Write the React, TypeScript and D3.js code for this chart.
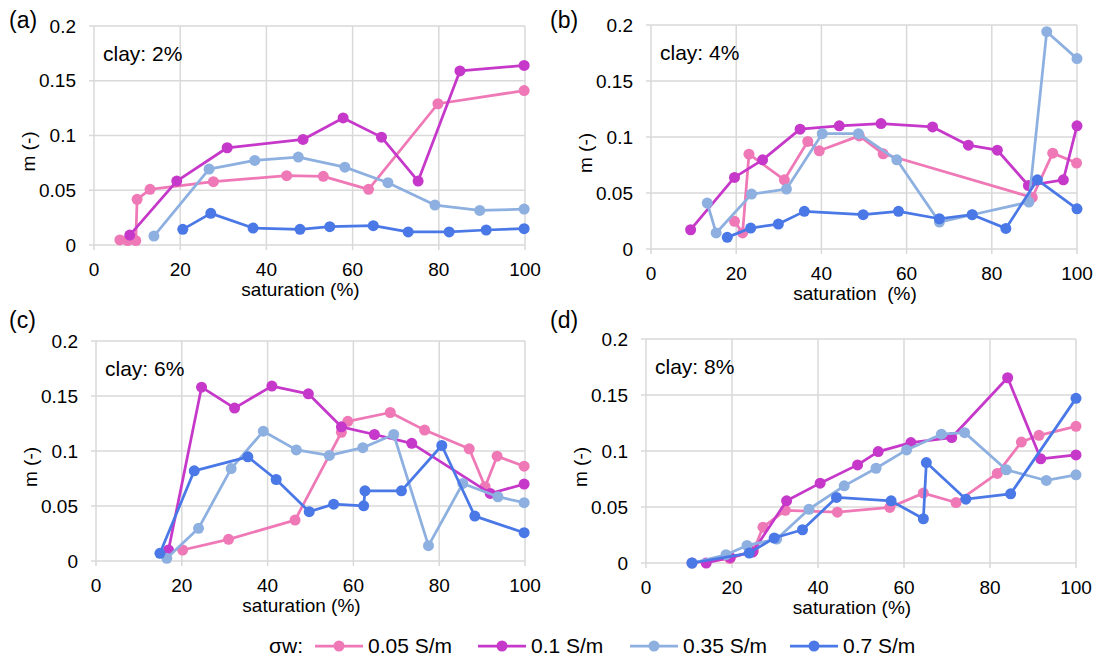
import React from "react";
import * as d3 from "d3";

// saturation (%) and m (-) pairs per clay content and water conductivity
const clay2_005: [number, number][] = [[6.0, 0.0046], [7.8, 0.004], [9.7, 0.004], [10.0, 0.0417], [13.0, 0.0508], [27.7, 0.0578], [44.7, 0.0633], [53.2, 0.0627], [63.7, 0.0508], [79.8, 0.129], [99.8, 0.141]];
const clay2_01: [number, number][] = [[8.3, 0.0091], [19.2, 0.0584], [30.9, 0.0888], [48.5, 0.0964], [57.8, 0.116], [66.7, 0.0985], [75.2, 0.0584], [84.9, 0.159], [99.8, 0.164]];
const clay2_035: [number, number][] = [[13.9, 0.0082], [26.7, 0.0693], [37.3, 0.0772], [47.4, 0.0803], [58.2, 0.0711], [68.2, 0.0569], [79.1, 0.0365], [89.5, 0.0316], [99.8, 0.0328]];
const clay2_07: [number, number][] = [[20.6, 0.0143], [27.1, 0.0289], [36.9, 0.0155], [47.8, 0.0143], [54.7, 0.0167], [64.8, 0.0176], [72.9, 0.0119], [82.4, 0.0119], [91.0, 0.0137], [99.8, 0.0149]];

const clay4_005: [number, number][] = [[19.6, 0.0247], [21.5, 0.0143], [23.0, 0.0847], [31.3, 0.0618], [36.8, 0.096], [39.5, 0.0877], [48.9, 0.101], [54.5, 0.085], [89.5, 0.046], [94.3, 0.0856], [99.9, 0.0767]];
const clay4_01: [number, number][] = [[9.3, 0.0172], [19.6, 0.0639], [26.2, 0.0796], [35.0, 0.107], [44.2, 0.110], [54.0, 0.112], [66.1, 0.109], [74.5, 0.0927], [81.3, 0.0882], [88.6, 0.0567], [96.8, 0.0618], [100, 0.110]];
const clay4_035: [number, number][] = [[13.2, 0.041], [15.3, 0.0143], [23.6, 0.049], [31.8, 0.0535], [40.2, 0.103], [48.7, 0.103], [57.7, 0.0796], [67.7, 0.024], [75.4, 0.0306], [88.7, 0.0419], [92.9, 0.194], [100, 0.170]];
const clay4_07: [number, number][] = [[17.9, 0.0104], [23.4, 0.0187], [29.9, 0.0223], [36.0, 0.0336], [49.8, 0.0306], [58.1, 0.0336], [67.7, 0.027], [75.4, 0.0306], [83.3, 0.0184], [90.7, 0.0618], [100, 0.0359]];

const clay6_005: [number, number][] = [[20.2, 0.010], [30.9, 0.0197], [46.4, 0.0372], [57.2, 0.117], [58.7, 0.127], [68.6, 0.135], [76.6, 0.119], [87.0, 0.102], [90.7, 0.0675], [93.5, 0.0953], [99.8, 0.0862]];
const clay6_01: [number, number][] = [[16.9, 0.010], [24.6, 0.158], [32.3, 0.139], [41.0, 0.159], [49.5, 0.152], [57.2, 0.122], [64.9, 0.115], [73.6, 0.107], [91.9, 0.0614], [99.8, 0.0699]];
const clay6_035: [number, number][] = [[16.5, 0.0024], [23.9, 0.0297], [31.5, 0.084], [39.0, 0.118], [46.7, 0.101], [54.4, 0.096], [62.2, 0.103], [69.4, 0.115], [77.5, 0.0139], [85.5, 0.0705], [93.7, 0.0584], [99.8, 0.053]];
const clay6_07: [number, number][] = [[14.9, 0.007], [22.9, 0.082], [35.4, 0.0947], [42.0, 0.0741], [49.7, 0.0448], [55.4, 0.0517], [62.4, 0.0502], [62.7, 0.0638], [71.2, 0.0638], [80.6, 0.105], [88.3, 0.0408], [99.8, 0.0257]];

const clay8_005: [number, number][] = [[10.7, 0.0], [19.5, 0.004], [25.0, 0.011], [27.2, 0.032], [32.4, 0.047], [44.5, 0.0454], [56.7, 0.0496], [64.5, 0.0624], [72.1, 0.054], [81.7, 0.080], [87.3, 0.108], [91.4, 0.114], [100, 0.122]];
const clay8_01: [number, number][] = [[14.0, 0.0], [19.6, 0.005], [24.8, 0.0098], [32.7, 0.0555], [40.5, 0.0713], [49.2, 0.0876], [54.0, 0.0995], [61.6, 0.1075], [71.1, 0.112], [84.1, 0.1654], [91.8, 0.093], [100, 0.0965]];
const clay8_035: [number, number][] = [[10.7, 0.0], [18.6, 0.0074], [23.5, 0.0157], [30.4, 0.0214], [37.9, 0.048], [46.1, 0.0689], [53.5, 0.0846], [60.6, 0.101], [68.7, 0.115], [74.1, 0.1164], [83.8, 0.0832], [93.1, 0.0737], [100, 0.0787]];
const clay8_07: [number, number][] = [[10.7, 0.0], [24.0, 0.0089], [29.8, 0.0223], [36.4, 0.0297], [44.3, 0.0585], [57.0, 0.0555], [64.5, 0.0395], [65.2, 0.0897], [74.4, 0.057], [84.8, 0.0618], [100, 0.147]];

const seriesNames = ["0.05 S/m", "0.1 S/m", "0.35 S/m", "0.7 S/m"];
const seriesColors = ["#ee79b6", "#c638c9", "#8db0e0", "#4a78e6"];
const xTicks = [0, 20, 40, 60, 80, 100];
const yTicks = [0, 0.05, 0.1, 0.15, 0.2];
const yTickLabels = ["0", "0.05", "0.1", "0.15", "0.2"];

const FONT = "'Liberation Sans', Arial, sans-serif";

type PanelProps = {
  label: string;
  clay: string;
  xTitle: string;
  series: [number, number][][];
  x0: number; x1: number; yTop: number; yBot: number;
  labelX: number; labelY: number;
};

function Panel(p: PanelProps) {
  const x = d3.scaleLinear().domain([0, 100]).range([p.x0, p.x1]);
  const y = d3.scaleLinear().domain([0, 0.2]).range([p.yBot, p.yTop]);
  const line = d3.line<[number, number]>().x(d => x(d[0])).y(d => y(d[1]));
  const grid = "#d9d9d9";
  const cx = (p.x0 + p.x1) / 2;
  const cy = (p.yTop + p.yBot) / 2;
  return (
    <g>
      {yTicks.map((t, i) => (
        <g key={"y" + i}>
          <line x1={p.x0 - 5} x2={p.x1} y1={y(t)} y2={y(t)} stroke={grid} strokeWidth={1.5} />
          <text x={p.x0 - 18} y={y(t)} dy="0.35em" textAnchor="end" fontSize={19} fontFamily={FONT} fill="#000">{yTickLabels[i]}</text>
        </g>
      ))}
      {xTicks.map((t, i) => (
        <g key={"x" + i}>
          <line x1={x(t)} x2={x(t)} y1={p.yTop} y2={p.yBot + 5} stroke={grid} strokeWidth={1.5} />
          <text x={x(t)} y={p.yBot + 31} textAnchor="middle" fontSize={19} fontFamily={FONT} fill="#000">{t}</text>
        </g>
      ))}
      <text x={cx - 9} y={p.yBot + 51} textAnchor="middle" fontSize={19} fontFamily={FONT} style={{ whiteSpace: "pre" }}>{p.xTitle}</text>
      <text transform={`translate(${p.x0 - 59},${cy + 16}) rotate(-90)`} textAnchor="middle" fontSize={19} fontFamily={FONT}>m (-)</text>
      <text x={p.labelX} y={p.labelY} fontSize={23} fontFamily={FONT}>{p.label}</text>
      <text x={p.x0 + 9} y={p.yTop + 35} fontSize={21} fontFamily={FONT}>{p.clay}</text>
      {p.series.map((s, i) => (
        <g key={"s" + i}>
          <path d={line(s) || ""} fill="none" stroke={seriesColors[i]} strokeWidth={2.75} strokeLinejoin="round" />
          {s.map((d, j) => (
            <circle key={j} cx={x(d[0])} cy={y(d[1])} r={5.5} fill={seriesColors[i]} />
          ))}
        </g>
      ))}
    </g>
  );
}

const legendLineX = [315, 478, 630, 790];

export default function App() {
  return (
    <svg width={1099} height={661} style={{ position: "absolute", left: 0, top: 0, background: "#fff" }}>
      <rect width={1099} height={661} fill="#fff" />
      <Panel label="(a)" clay="clay: 2%" xTitle="saturation (%)" series={[clay2_005, clay2_01, clay2_035, clay2_07]}
        x0={94} x1={525} yTop={26} yBot={245} labelX={9} labelY={28} />
      <Panel label="(b)" clay="clay: 4%" xTitle="saturation  (%)" series={[clay4_005, clay4_01, clay4_035, clay4_07]}
        x0={651} x1={1077} yTop={25} yBot={249} labelX={550} labelY={28} />
      <Panel label="(c)" clay="clay: 6%" xTitle="saturation (%)" series={[clay6_005, clay6_01, clay6_035, clay6_07]}
        x0={96} x1={525} yTop={341} yBot={561} labelX={9} labelY={328} />
      <Panel label="(d)" clay="clay: 8%" xTitle="saturation (%)" series={[clay8_005, clay8_01, clay8_035, clay8_07]}
        x0={646} x1={1076} yTop={339} yBot={563} labelX={550} labelY={328} />
      <g>
        <text x={303} y={653} textAnchor="end" fontSize={21} fontFamily={FONT}>σw:</text>
        {seriesNames.map((n, i) => (
          <g key={n}>
            <line x1={legendLineX[i]} x2={legendLineX[i] + 48} y1={646} y2={646} stroke={seriesColors[i]} strokeWidth={2.75} />
            <circle cx={legendLineX[i] + 24} cy={646} r={5.5} fill={seriesColors[i]} />
            <text x={legendLineX[i] + 53} y={653} fontSize={21} fontFamily={FONT}>{n}</text>
          </g>
        ))}
      </g>
    </svg>
  );
}
